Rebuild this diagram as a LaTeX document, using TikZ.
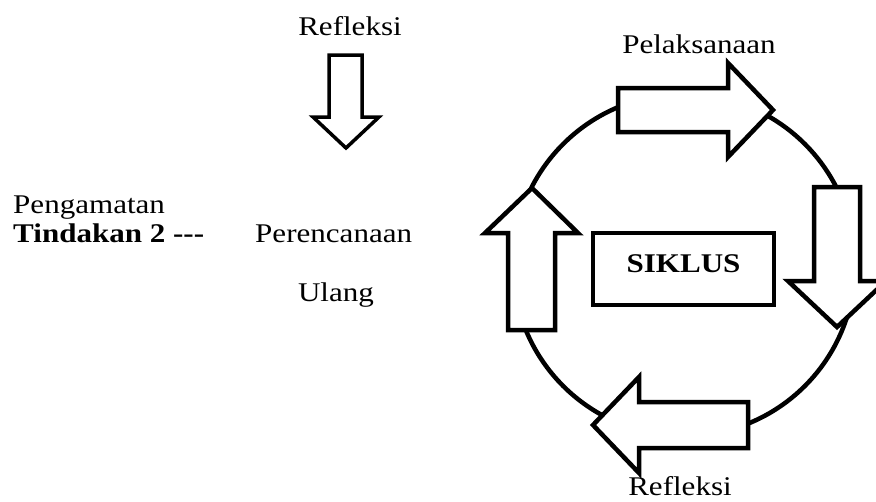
\documentclass[tikz,border=0pt]{standalone}
\usepackage{fontspec}
\setmainfont{Liberation Serif}
\usetikzlibrary{positioning}

\begin{document}
\begin{tikzpicture}[
			x=1pt, y=-1pt,
			txt/.style = {inner sep=0pt, xscale=1.15, font=\fontsize{27}{32}\selectfont},
			ring/.style = {draw, circle, line width=4.5pt, inner sep=0pt},
			blockarrow/.style = {draw, fill=white, line width=4.5pt, line join=miter},
			smallarrow/.style = {draw, fill=white, line width=3.5pt, line join=miter},
			titlebox/.style = {draw, line width=4.5pt, minimum width=181pt, minimum height=72pt,
				text height=20pt, text depth=13pt, inner sep=0pt}
		]
		\useasboundingbox (0,0) rectangle (876,501);
		% Left part.
		\node[txt, anchor=base] (refl1) at (350,35) {Refleksi};
		\node[txt, anchor=base west] (amat) at (13,213) {Pengamatan};
		\node[txt, anchor=base west, font=\fontsize{27}{32}\selectfont\bfseries] (tind) at (13,242) {Tindakan 2 {-}{-}{-}};
		\node[txt, anchor=base west] (renc) at (255,242) {Perencanaan};
		\node[txt, anchor=base] (ulang) at (336,301) {Ulang};
		\draw[smallarrow] (329,55) -- (362,55) -- (362,117) -- (379,117) -- (346,148)
			-- (313,117) -- (329,117) -- cycle;
		% Cycle.
		\node[ring, minimum size=342pt] (cyc) at (684,265) {};
		\node[titlebox, font=\fontsize{27}{32}\selectfont\bfseries] (siklus) at (683.5,269) {\scalebox{1.15}[1]{SIKLUS}};
		\node[txt, anchor=base] (laks) at (699,53) {Pelaksanaan};
		\node[txt, anchor=base] (refl2) at (680,495) {Refleksi};
		% Arrows on the cycle.
		\draw[blockarrow] (618,88) -- (728,88) -- (728,63) -- (773,110) -- (728,157)
			-- (728,132) -- (618,132) -- cycle;
		\draw[blockarrow] (814,187) -- (860,187) -- (860,281) -- (886,281) -- (837,327)
			-- (788,281) -- (814,281) -- cycle;
		\draw[blockarrow] (748,402) -- (639,402) -- (639,377) -- (593,425) -- (639,473)
			-- (639,448) -- (748,448) -- cycle;
		\draw[blockarrow] (508,330) -- (508,233) -- (485,233) -- (532,188) -- (578,233)
			-- (555,233) -- (555,330) -- cycle;
	\end{tikzpicture}
\end{document}
